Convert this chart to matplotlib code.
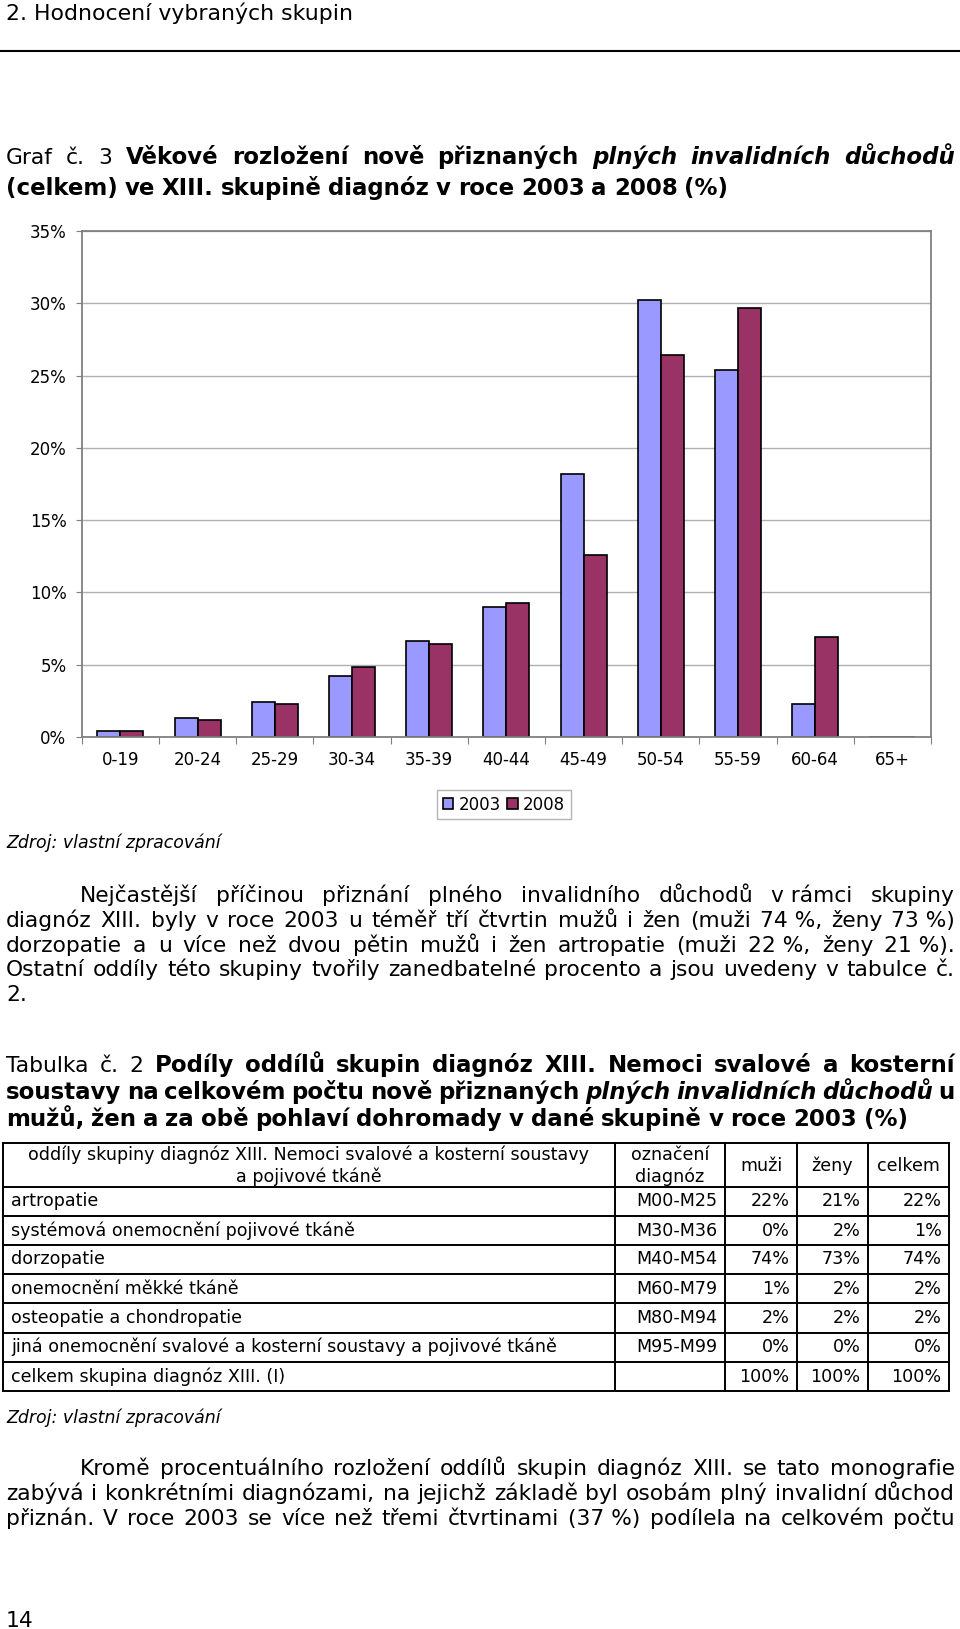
import numpy as np
import matplotlib
matplotlib.use('Agg')
import matplotlib.pyplot as plt

plt.rcParams['font.family'] = ['DejaVu Sans']

# chart data
categories = ['0-19', '20-24', '25-29', '30-34', '35-39', '40-44',
              '45-49', '50-54', '55-59', '60-64', '65+']
share_2003 = [0.4, 1.3, 2.45, 4.2, 6.65, 9.0, 18.2, 30.2, 25.4, 2.3, 0.0]
share_2008 = [0.4, 1.2, 2.3, 4.85, 6.45, 9.3, 12.6, 26.45, 29.7, 6.95, 0.0]
series_names = ['2003', '2008']
y_ticks = [0, 5, 10, 15, 20, 25, 30, 35]

# table data
table_header = ['oddíly skupiny diagnóz XIII. Nemoci svalové a kosterní soustavy\na pojivové tkáně',
                'označení\ndiagnóz', 'muži', 'ženy', 'celkem']
table_sections = ['artropatie', 'systémová onemocnění pojivové tkáně', 'dorzopatie',
                  'onemocnění měkké tkáně', 'osteopatie a chondropatie',
                  'jiná onemocnění svalové a kosterní soustavy a pojivové tkáně',
                  'celkem skupina diagnóz XIII. (I)']
table_codes = ['M00-M25', 'M30-M36', 'M40-M54', 'M60-M79', 'M80-M94', 'M95-M99', '']
table_men = ['22%', '0%', '74%', '1%', '2%', '0%', '100%']
table_women = ['21%', '2%', '73%', '2%', '2%', '0%', '100%']
table_total = ['22%', '1%', '74%', '2%', '2%', '0%', '100%']

W, H = 960, 1629
fig = plt.figure(figsize=(W / 100, H / 100), dpi=100)
page = fig.add_axes([0, 0, 1, 1])
page.set_xlim(0, W)
page.set_ylim(H, 0)
page.axis('off')
r = fig.canvas.get_renderer()


def text_width(s, size, weight='normal', style='normal'):
    t = page.text(0, 0, s, fontsize=size, fontweight=weight, fontstyle=style)
    w = t.get_window_extent(renderer=r).width
    t.remove()
    return w


def fit(s, target, weight='normal', style='normal'):
    return 10 * target / text_width(s, 10, weight, style)


def words(s, weight='normal', style='normal'):
    return [(w, weight, style) for w in s.split(' ')]


def put_line(y, tokens, x0=6, x1=955, justify=True):
    # regular words are set a little smaller so DejaVu widths follow the Verdana original
    sizes = [bold if wt == 'bold' else body for _, wt, _ in tokens]
    widths = [text_width(w, sz, wt, st) for (w, wt, st), sz in zip(tokens, sizes)]
    if justify and len(tokens) > 1:
        gap = (x1 - x0 - sum(widths)) / (len(tokens) - 1)
    else:
        gap = text_width('a a', body) - text_width('aa', body)
    x = x0
    for (w, wt, st), tw, sz in zip(tokens, widths, sizes):
        page.text(x, y, w, fontsize=sz, fontweight=wt, fontstyle=st,
                  ha='left', va='baseline')
        x += tw + gap


bold = fit('(celkem) ve XIII. skupině diagnóz v roce 2003 a 2008 (%)', 736, 'bold')
body = bold * 0.95
head = fit('2. Hodnocení vybraných skupin', 345)
src = fit('Zdroj: vlastní zpracování', 215, style='italic')
tab = fit('jiná onemocnění svalové a kosterní soustavy a pojivové tkáně', 542)

# page header
page.text(6, 20, '2. Hodnocení vybraných skupin', fontsize=head, va='baseline')
page.plot([0, W], [51, 51], color='black', lw=1.5)

# chart caption
put_line(164, words('Graf č. 3') + words('Věkové rozložení nově přiznaných', 'bold')
         + words('plných invalidních důchodů', 'bold', 'italic'))
put_line(195, words('(celkem) ve XIII. skupině diagnóz v roce 2003 a 2008 (%)', 'bold'),
         justify=False)

# bar chart
ax = fig.add_axes([81.7 / W, 1 - 737 / H, (931 - 81.7) / W, (737 - 231) / H])
idx = np.arange(len(categories))
bw = 0.298
b1 = ax.bar(idx - bw / 2, share_2003, bw, color='#9999FF', edgecolor='black', lw=1.2,
            label=series_names[0])
b2 = ax.bar(idx + bw / 2, share_2008, bw, color='#993366', edgecolor='black', lw=1.2,
            label=series_names[1])
ax.set_xlim(-0.5, len(categories) - 0.5)
ax.set_ylim(0, 35)
ax.set_yticks(y_ticks)
ax.set_yticklabels([f'{v}%' for v in y_ticks])
ax.set_xticks(np.arange(len(categories) + 1) - 0.5)
ax.set_xticklabels([])
ax.set_xticks(idx, minor=True)
ax.set_xticklabels(categories, minor=True)
ax.tick_params(axis='y', direction='out', length=4, color='#808080', labelsize=12, pad=7)
ax.tick_params(axis='x', which='major', direction='out', length=5, color='#808080')
ax.tick_params(axis='x', which='minor', length=0, labelsize=12, pad=10)
ax.yaxis.grid(True, color='#B0B0B0', lw=1)
ax.set_axisbelow(True)
for sp in ax.spines.values():
    sp.set_color('#808080')
    sp.set_linewidth(1.3)

leg = fig.legend(handles=[b1, b2], loc='center', bbox_to_anchor=(504 / W, 1 - 804.5 / H),
                 ncol=2, frameon=True, fancybox=False, edgecolor='#A0A0A0',
                 handlelength=0.65, handleheight=0.65, handletextpad=0.3,
                 columnspacing=0.4, borderpad=0.35, fontsize=12)
leg.get_frame().set_linewidth(1.0)

page.text(6, 848, 'Zdroj: vlastní zpracování', fontsize=src, fontstyle='italic', va='baseline')

# paragraph
put_line(902, words('Nejčastější příčinou přiznání plného invalidního důchodů v\u00a0rámci skupiny'),
         x0=80)
put_line(927, words('diagnóz XIII. byly v roce 2003 u téměř tří čtvrtin mužů i žen '
                    '(muži 74\u00a0%, ženy 73\u00a0%)'))
put_line(952, words('dorzopatie a u více než dvou pětin mužů i žen artropatie '
                    '(muži 22\u00a0%, ženy 21\u00a0%).'))
put_line(976, words('Ostatní oddíly této skupiny tvořily zanedbatelné procento a jsou '
                    'uvedeny v tabulce č.'))
put_line(1001, words('2.'), justify=False)

# table caption
put_line(1072, words('Tabulka č. 2') + words('Podíly oddílů skupin diagnóz XIII. Nemoci '
                                            'svalové a kosterní', 'bold'))
put_line(1099, words('soustavy na celkovém počtu nově přiznaných', 'bold')
         + words('plných invalidních důchodů', 'bold', 'italic') + words('u', 'bold'))
put_line(1126, words('mužů, žen a za obě pohlaví dohromady v dané skupině v roce 2003 (%)',
                     'bold'), justify=False)

# table
col_x = [3, 615, 725, 797, 868, 949]
row_y = [1143, 1187, 1216, 1245, 1274, 1303, 1333, 1362, 1391]
for x in col_x:
    page.plot([x, x], [row_y[0], row_y[-1]], color='black', lw=1.4, solid_capstyle='projecting')
for y in row_y:
    page.plot([col_x[0], col_x[-1]], [y, y], color='black', lw=1.4, solid_capstyle='projecting')

for i, label in enumerate(table_header):
    cx = (col_x[i] + col_x[i + 1]) / 2
    lines = label.split('\n')
    if len(lines) == 2:
        ys = [1160, 1182]
    else:
        ys = [1171]
    for ln, yy in zip(lines, ys):
        page.text(cx, yy, ln, fontsize=tab, ha='center', va='baseline')

cols = [table_codes, table_men, table_women, table_total]
for k, name in enumerate(table_sections):
    yb = (row_y[k + 1] + row_y[k + 2]) / 2 + 5
    page.text(col_x[0] + 8, yb, name, fontsize=tab, ha='left', va='baseline')
    for j, col in enumerate(cols):
        page.text(col_x[j + 2] - 7.5, yb, col[k], fontsize=tab, ha='right', va='baseline')

page.text(6, 1423, 'Zdroj: vlastní zpracování', fontsize=src, fontstyle='italic', va='baseline')

# closing paragraph
put_line(1475, words('Kromě procentuálního rozložení oddílů skupin diagnóz XIII. se tato '
                     'monografie'), x0=80)
put_line(1500, words('zabývá i konkrétními diagnózami, na jejichž základě byl osobám plný '
                     'invalidní důchod'))
put_line(1525, words('přiznán. V roce 2003 se více než třemi čtvrtinami (37\u00a0%) podílela '
                     'na celkovém počtu'))

page.text(6, 1627, '14', fontsize=body, va='baseline')

fig.savefig('out.png', dpi=100)
